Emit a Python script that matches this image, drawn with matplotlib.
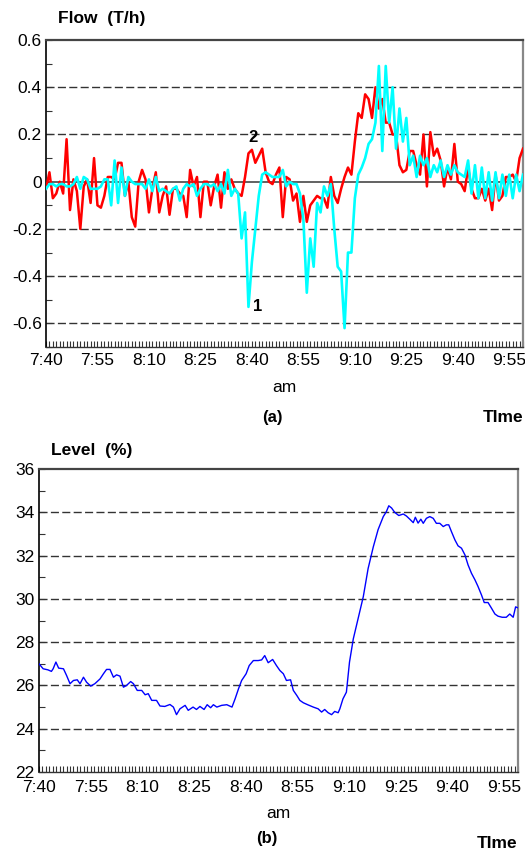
import numpy as np
import matplotlib
matplotlib.use("Agg")
import matplotlib.pyplot as plt
from matplotlib.ticker import MultipleLocator, FuncFormatter

plt.rcParams['font.family'] = ['Liberation Sans', 'DejaVu Sans']
plt.rcParams['axes.unicode_minus'] = False

# ---------------------------------------------------------
# data (minutes after 7:40)
# ---------------------------------------------------------
flow_minutes = list(range(140))

flow_red = [
    -0.03, 0.04, -0.07, -0.05, 0.00, -0.05, 0.18, -0.12, 0.01, -0.04,
    -0.20, -0.02, 0.01, -0.09, 0.10, -0.10, -0.11, -0.06, 0.02, 0.02,
    0.01, 0.08, 0.08, -0.06, 0.00, -0.15, -0.19, 0.00, 0.05, 0.01,
    -0.13, -0.03, 0.04, -0.13, -0.06, -0.02, -0.14, -0.03, -0.03, -0.05,
    -0.06, -0.15, 0.05, -0.02, 0.02, -0.15, 0.00, 0.00, -0.10, -0.02,
    0.03, -0.11, 0.04, -0.03, 0.01, -0.03, -0.05, -0.06, 0.02, 0.12,
    0.135, 0.08, 0.11, 0.14, 0.04, 0.00, -0.01, 0.03, 0.06, -0.15,
    0.02, 0.01, -0.08, -0.05, -0.17, -0.06, -0.17, -0.10, -0.08, -0.06,
    -0.07, -0.07, -0.11, 0.02, -0.06, -0.09, -0.03, 0.02, 0.06, 0.03,
    0.17, 0.29, 0.27, 0.37, 0.35, 0.27, 0.40, 0.31, 0.35, 0.25,
    0.25, 0.20, 0.20, 0.07, 0.04, 0.05, 0.13, 0.13, 0.07, 0.03,
    0.20, -0.02, 0.21, 0.11, 0.14, 0.09, -0.02, 0.06, 0.01, 0.16,
    0.00, -0.01, -0.04, 0.06, -0.03, -0.07, -0.07, -0.03, -0.08, -0.03,
    -0.12, 0.03, -0.08, -0.06, 0.02, 0.02, 0.03, 0.00, 0.10, 0.14,
]

flow_cyan = [
    -0.03, -0.01, -0.01, -0.02, -0.01, -0.01, -0.02, -0.02, -0.01, 0.02,
    -0.03, 0.02, 0.01, -0.03, -0.03, -0.03, -0.02, 0.01, 0.01, -0.10,
    0.09, -0.09, 0.06, -0.06, 0.02, 0.00, -0.01, -0.01, -0.01, -0.03,
    0.01, -0.04, 0.02, -0.04, -0.03, -0.04, -0.05, -0.03, -0.02, -0.08,
    -0.03, -0.01, -0.02, -0.01, -0.06, -0.03, -0.01, -0.01, -0.02, -0.01,
    -0.04, -0.01, -0.05, 0.05, -0.06, -0.03, -0.05, -0.24, -0.13, -0.53,
    -0.34, -0.20, -0.06, 0.03, 0.04, 0.03, 0.02, 0.02, 0.02, 0.05,
    -0.02, 0.00, -0.01, -0.01, -0.05, -0.16, -0.47, -0.24, -0.36, -0.09,
    -0.13, -0.02, -0.06, -0.01, -0.20, -0.36, -0.38, -0.62, -0.30, -0.30,
    -0.07, 0.03, 0.06, 0.10, 0.16, 0.18, 0.25, 0.49, 0.13, 0.49,
    0.25, 0.40, 0.14, 0.31, 0.17, 0.27, 0.07, 0.11, 0.02, 0.11,
    0.07, 0.10, 0.02, 0.07, 0.04, 0.09, 0.02, 0.07, 0.03, 0.07,
    0.04, 0.03, 0.02, 0.09, -0.05, 0.07, -0.07, 0.06, -0.07, 0.04,
    -0.08, 0.04, -0.07, 0.03, -0.06, 0.03, -0.07, 0.03, -0.04, 0.03,
]

level_minutes = [
    0, 1.2, 2.6, 3.6, 4.1, 4.9, 5.7, 7.1, 8.0, 9.0, 10, 11.1, 11.9, 12.9, 13.8,
    15, 16.2, 17.7, 18.7, 19.6, 20.6, 21.6, 22.5, 23.5, 24.5, 25.4, 26.6, 27.4,
    28.5, 29.8, 30.8, 31.7, 32.7, 34.1, 35.1, 36.5, 38, 39, 39.9, 40.9, 42.4,
    43.3, 44.7, 45.7, 46.7, 47.9, 48.8, 49.8, 50.6, 51.6, 53, 54.5, 56, 56.9,
    57.9, 58.8, 60.1, 61, 62.2, 63.6, 64.6, 65.5, 66.5, 67.8, 68.9, 69.9, 70.9,
    71.8, 73, 73.8, 74.8, 75.7, 76.7, 78.1, 79.6, 81, 82, 82.9, 83.9, 84.9,
    85.8, 86.8, 87.3, 88.2, 89.2, 90.1, 91.2, 92.6, 94.1, 95.5, 97, 98.4, 99.9,
    100.8, 101.5, 102.3, 103.2, 104.4, 105.7, 106.6, 107.6, 108.6, 109.2, 110,
    110.8, 111.5, 112.4, 113.4, 114.4, 115.3, 116.3, 117.3, 118.2, 118.9,
    119.7, 120.7, 121.6, 122.6, 123.6, 124.5, 125.5, 126.5, 127.4, 128.4,
    129.2, 130.3, 131.3, 132.3, 133.2, 134.4, 135.6, 136.6, 137.6, 138.3, 139.2,
]

level_values = [
    27.0, 26.77, 26.72, 26.65, 26.77, 27.08, 26.8, 26.77, 26.46, 26.08, 26.23,
    26.26, 26.08, 26.38, 26.15, 25.97, 26.08, 26.3, 26.54, 26.74, 26.74, 26.38,
    26.49, 26.43, 25.92, 26.0, 26.18, 26.08, 25.77, 25.77, 25.57, 25.62, 25.31,
    25.31, 25.05, 25.03, 25.12, 25.0, 24.65, 24.92, 25.08, 24.85, 25.0, 24.89,
    25.03, 24.89, 25.11, 24.97, 25.11, 25.0, 25.08, 25.11, 25.0, 25.38, 25.85,
    26.23, 26.54, 26.92, 27.15, 27.15, 27.18, 27.38, 27.05, 27.2, 26.92, 26.69,
    26.54, 26.23, 26.26, 25.77, 25.54, 25.31, 25.2, 25.1, 25.0, 24.92, 24.77,
    24.89, 24.74, 24.65, 24.8, 24.74, 24.92, 25.38, 25.69, 27.08, 28.15, 29.1,
    30.1, 31.4, 32.4, 33.2, 33.8, 34.03, 34.3, 34.2, 34.0, 33.85, 33.92, 33.83,
    33.68, 33.52, 33.77, 33.5, 33.68, 33.49, 33.72, 33.8, 33.72, 33.49, 33.49,
    33.34, 33.42, 33.42, 33.1, 32.72, 32.45, 32.34, 32.03, 31.57, 31.18, 30.88,
    30.57, 30.18, 29.83, 29.83, 29.57, 29.3, 29.2, 29.15, 29.15, 29.3, 29.15,
    29.63, 29.57,
]

flow_ticks = [-0.6, -0.4, -0.2, 0, 0.2, 0.4, 0.6]
flow_tick_labels = ["-0.6", "-0.4", "-0.2", "0", "0.2", "0.4", "0.6"]
flow_dashed = [-0.6, -0.4, -0.2, 0.2, 0.4]
level_ticks = [22, 24, 26, 28, 30, 32, 34, 36]
level_dashed = [24, 26, 28, 30, 32, 34]


def clock(m, pos=None):
    total = 7 * 60 + 40 + int(round(m))
    return f"{total // 60}:{total % 60:02d}"


def style_axes(ax, xpad=4):
    ax.set_xlim(0, 139)
    ax.xaxis.set_major_locator(MultipleLocator(15))
    ax.xaxis.set_minor_locator(MultipleLocator(1))
    ax.xaxis.set_major_formatter(FuncFormatter(clock))
    ax.tick_params(axis='both', which='both', direction='in', labelsize=12.5,
                   color='#333333', width=0.8)
    ax.tick_params(axis='x', which='both', length=4.5, pad=xpad)
    ax.tick_params(axis='y', which='both', length=4, pad=3)
    ax.spines['top'].set_color('#444444')
    ax.spines['top'].set_linewidth(1.6)
    ax.spines['right'].set_color('#888888')
    ax.spines['right'].set_linewidth(1.6)
    ax.spines['left'].set_color('black')
    ax.spines['left'].set_linewidth(1.2)
    ax.spines['bottom'].set_color('#333333')
    ax.spines['bottom'].set_linewidth(1.0)


fig = plt.figure(figsize=(5.25, 8.51), dpi=100)

# --- (a) flow ---
ax1 = fig.add_axes([0.0876, 0.5922, 0.9086, 0.3608])
style_axes(ax1)
ax1.set_ylim(-0.7, 0.6)
ax1.set_yticks(flow_ticks)
ax1.set_yticklabels(flow_tick_labels)
ax1.yaxis.set_minor_locator(MultipleLocator(0.1))
for v in flow_dashed:
    ax1.axhline(v, color='#333333', lw=1.0, dashes=(5.8, 2.4), zorder=1)
ax1.axhline(0, color='#555555', lw=1.3, zorder=1)
ax1.plot(flow_minutes, flow_red, color='#ff0000', lw=1.8, zorder=3)
ax1.plot(flow_minutes, flow_cyan, color='#00ffff', lw=1.9, zorder=4)
ax1.text(60.3, 0.155, "2", fontsize=12, weight='bold', ha='center', va='bottom')
ax1.text(61.8, -0.53, "1", fontsize=12, weight='bold', ha='center', va='center')

# --- (b) level ---
ax2 = fig.add_axes([0.0743, 0.0928, 0.9124, 0.3561])
style_axes(ax2, xpad=5.5)
ax2.set_ylim(22, 36)
ax2.set_yticks(level_ticks)
ax2.yaxis.set_minor_locator(MultipleLocator(1))
for lab in ax2.get_yticklabels():
    lab.set_verticalalignment('center_baseline')
for v in level_dashed:
    ax2.axhline(v, color='#333333', lw=1.0, dashes=(5.8, 2.4), zorder=1)
ax2.plot(level_minutes, level_values, color='#0000ff', lw=1.0, zorder=3)

# --- labels ---
W, H = 525.0, 851.0
fig.text(58 / W, 1 - 18 / H, "Flow  (T/h)", fontsize=12.5, weight='bold', va='center', ha='left')
fig.text(284 / W, 1 - 392 / H, "am", fontsize=12.5, ha='center', va='baseline')
fig.text(272 / W, 1 - 418 / H, "(a)", fontsize=12, weight='bold', ha='center', va='center')
fig.text(523 / W, 1 - 418 / H, "TIme", fontsize=12.5, weight='bold', ha='right', va='center')

fig.text(51 / W, 1 - 450 / H, "Level  (%)", fontsize=12.5, weight='bold', va='center', ha='left')
fig.text(278 / W, 1 - 818 / H, "am", fontsize=12.5, ha='center', va='baseline')
fig.text(267 / W, 1 - 839 / H, "(b)", fontsize=12, weight='bold', ha='center', va='center')
fig.text(517 / W, 1 - 843 / H, "TIme", fontsize=12.5, weight='bold', ha='right', va='center')

fig.savefig("out.png", dpi=100)
